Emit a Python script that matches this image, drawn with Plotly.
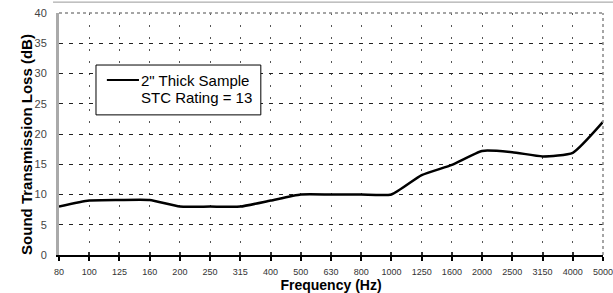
import plotly.graph_objects as go

freqs = ["80", "100", "125", "160", "200", "250", "315", "400", "500", "630",
         "800", "1000", "1250", "1600", "2000", "2500", "3150", "4000", "5000"]
tl = [8.0, 9.0, 9.1, 9.1, 8.0, 8.0, 8.0, 9.0, 10.0, 10.0,
      10.0, 10.0, 13.2, 14.9, 17.2, 17.0, 16.3, 16.9, 22.0]
y_ticks = [0, 5, 10, 15, 20, 25, 30, 35, 40]
legend_lines = ["2\" Thick Sample", "STC Rating = 13"]
y_title = "Sound Transmission Loss (dB)"
x_title = "Frequency (Hz)"

fig = go.Figure()
fig.add_trace(go.Scatter(x=freqs, y=tl, mode="lines",
                         line=dict(color="black", width=2.5, shape="spline", smoothing=0.5),
                         showlegend=False, hoverinfo="skip"))
# invisible trace on an overlay axis, only used to draw inward tick marks
fig.add_trace(go.Scatter(x=freqs, y=tl, mode="lines", xaxis="x2", line=dict(width=0),
                         opacity=0, showlegend=False, hoverinfo="skip"))

fig.update_layout(
    width=613, height=293,
    margin=dict(l=59, r=10, t=13, b=38),
    paper_bgcolor="white", plot_bgcolor="white",
    font=dict(family="Liberation Sans, Arial, sans-serif", color="black"),
    showlegend=False,
    xaxis2=dict(type="category", range=[0, 18], overlaying="x", side="bottom",
                showgrid=False, showline=False, zeroline=False, showticklabels=False,
                ticks="inside", ticklen=3, tickcolor="#333333", tickwidth=1.5),
    xaxis=dict(
        type="category", range=[0, 18], automargin=False,
        showgrid=True, gridcolor="#555555", griddash="2px,10px", gridwidth=1,
        showline=True, linecolor="black", linewidth=1.5,
        ticks="outside", ticklen=4, tickcolor="black", tickwidth=1.5,
        ticklabelstandoff=3, ticklabeloverflow="allow",
        tickfont=dict(size=9, color="#333333"),
        title=dict(text="<b>" + x_title + "</b>", font=dict(size=14), standoff=4),
        zeroline=False,
    ),
    yaxis=dict(
        range=[0, 40], tickvals=y_ticks, automargin=False,
        showgrid=True, gridcolor="#222222", griddash="4px,6px", gridwidth=1,
        showline=True, linecolor="#aaaaaa", linewidth=3,
        ticks="", ticklabelstandoff=7, ticklabeloverflow="allow",
        tickfont=dict(size=11, color="#444444"),
        zeroline=False,
    ),
)
# y-axis title placed as a rotated annotation (sits slightly below centre in the original)
fig.add_annotation(xref="paper", yref="paper", x=-0.0588, y=0.455, xanchor="center", yanchor="middle",
                   text="<b>" + y_title + "</b>", textangle=-90, showarrow=False,
                   font=dict(size=15))
# top & right dotted border
fig.add_shape(type="line", xref="paper", yref="paper", x0=0, x1=1, y0=1, y1=1,
              line=dict(color="#888888", width=1.5, dash="dot"))
fig.add_shape(type="line", xref="paper", yref="paper", x0=1, x1=1, y0=0, y1=1,
              line=dict(color="#888888", width=1.5, dash="dot"))
# scan border line at very top
fig.add_shape(type="line", xref="paper", yref="paper", x0=-0.011, x1=1.02, y0=1.045, y1=1.045,
              line=dict(color="#999999", width=1))
# legend box
fig.add_shape(type="rect", xref="paper", yref="paper", x0=0.068, x1=0.371, y0=0.579, y1=0.785,
              line=dict(color="black", width=1), fillcolor="white")
fig.add_shape(type="line", xref="paper", yref="paper", x0=0.088, x1=0.147, y0=0.723, y1=0.723,
              line=dict(color="black", width=2))
fig.add_annotation(xref="paper", yref="paper", x=0.147, y=0.723, xanchor="left", yanchor="middle",
                   text=legend_lines[0], showarrow=False, font=dict(size=15))
fig.add_annotation(xref="paper", yref="paper", x=0.147, y=0.65, xanchor="left", yanchor="middle",
                   text=legend_lines[1], showarrow=False, font=dict(size=15))

fig.write_html("out.html", config={"displayModeBar": False},
               post_script="document.body.style.margin='0';")
